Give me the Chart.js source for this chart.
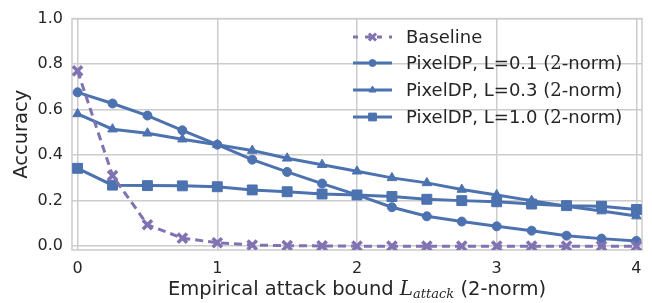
<!DOCTYPE html>
<html>
<head>
<meta charset="utf-8">
<script src="https://cdn.jsdelivr.net/npm/chart.js@4.4.1/dist/chart.umd.min.js"></script>
<style>
  html, body { margin: 0; padding: 0; background: #fff; }
  #wrap { width: 652px; height: 303px; }
</style>
</head>
<body>
<div id="wrap"><canvas id="chart" width="652" height="303"></canvas></div>
<script>
const attackBounds = [0, 0.25, 0.5, 0.75, 1, 1.25, 1.5, 1.75, 2, 2.25, 2.5, 2.75, 3, 3.25, 3.5, 3.75, 4];
const baseline = [0.77, 0.31, 0.094, 0.035, 0.015, 0.005, 0.002, 0.001, 0, 0, 0, 0, 0, 0, 0, 0, 0];
const pixelDP01 = [0.676, 0.627, 0.574, 0.509, 0.446, 0.38, 0.326, 0.275, 0.225, 0.171, 0.131, 0.108, 0.087, 0.068, 0.046, 0.033, 0.023];
const pixelDP03 = [0.581, 0.514, 0.496, 0.47, 0.446, 0.42, 0.386, 0.358, 0.329, 0.3, 0.278, 0.249, 0.225, 0.2, 0.175, 0.154, 0.132];
const pixelDP10 = [0.342, 0.268, 0.266, 0.265, 0.261, 0.247, 0.239, 0.229, 0.225, 0.218, 0.206, 0.2, 0.195, 0.185, 0.178, 0.175, 0.161];
const xTicks = [0, 1, 2, 3, 4];
const yTicks = [0, 0.2, 0.4, 0.6, 0.8, 1.0];

const blue = '#4c72b0';
const purple = '#8172b2';
const textColor = '#262626';
const gridColor = '#cccccc';

function pts(ys) {
  return attackBounds.map((x, i) => ({ x: x, y: ys[i] }));
}

// legend + x title + frame
const extras = {
  id: 'extras',
  beforeDatasetsDraw(chart) {
    const { ctx, chartArea: a } = chart;
    ctx.save();
    ctx.strokeStyle = gridColor;
    ctx.lineWidth = 1.5;
    ctx.strokeRect(a.left, a.top, a.right - a.left, a.bottom - a.top);
    ctx.restore();
  },
  afterDraw(chart) {
    const { ctx } = chart;
    ctx.save();
    ctx.fillStyle = textColor;
    ctx.textBaseline = 'middle';

    // legend
    const rowY = [37, 63, 90, 117];
    chart.data.datasets.forEach((ds, i) => {
      const y = rowY[i];
      ctx.strokeStyle = ds.borderColor;
      ctx.lineWidth = ds.borderWidth;
      ctx.setLineDash(ds.legendDash || []);
      ctx.beginPath();
      ctx.moveTo(353, y);
      ctx.lineTo(392, y);
      ctx.stroke();
      ctx.setLineDash([]);
      ctx.fillStyle = ds.pointBackgroundColor;
      ctx.strokeStyle = ds.borderColor;
      ctx.lineWidth = ds.legendPointBorder;
      Chart.helpers.drawPoint(ctx, {
        pointStyle: ds.pointStyle,
        radius: ds.legendRadius,
        borderWidth: ds.legendPointBorder,
        rotation: 0
      }, 372.5, y);

      ctx.fillStyle = textColor;
      ctx.textAlign = 'left';
      let x = 406;
      ds.legendParts.forEach(p => {
        ctx.font = p.font;
        ctx.fillText(p.text, x, y + 1);
        x += ctx.measureText(p.text).width;
      });
    });

    // x axis title with math L_attack
    const sans = '19.5px "DejaVu Sans"';
    const pieces = [
      { text: 'Empirical attack bound ', font: sans, dy: 0 },
      { text: 'L', font: 'italic 20px "DejaVu Serif"', dy: 0 },
      { text: 'attack', font: 'italic 13px "DejaVu Serif"', dy: 5 },
      { text: ' (2-norm)', font: sans, dy: 0 }
    ];
    let total = 0;
    pieces.forEach(p => { ctx.font = p.font; total += ctx.measureText(p.text).width; });
    const a = chart.chartArea;
    let x = (a.left + a.right) / 2 - total / 2;
    ctx.textAlign = 'left';
    pieces.forEach(p => {
      ctx.font = p.font;
      ctx.fillText(p.text, x, 290 + p.dy);
      x += ctx.measureText(p.text).width;
    });
    ctx.restore();
  }
};

const sansLegend = '18px "DejaVu Sans"';
const serifLegend = '18px "DejaVu Serif"';
function normParts(label) {
  return [
    { text: label + ' (', font: sansLegend },
    { text: '2', font: serifLegend },
    { text: '-norm)', font: sansLegend }
  ];
}

new Chart(document.getElementById('chart'), {
  type: 'line',
  data: {
    datasets: [
      {
        label: 'Baseline',
        data: pts(baseline),
        borderColor: purple,
        backgroundColor: purple,
        pointBackgroundColor: purple,
        borderWidth: 3,
        borderDash: [8, 5],
        pointStyle: 'crossRot',
        pointRadius: 6.5,
        pointBorderWidth: 3.5,
        legendDash: [5, 7],
        legendRadius: 5,
        legendPointBorder: 3,
        legendParts: [{ text: 'Baseline', font: sansLegend }]
      },
      {
        label: 'PixelDP, L=0.1 (2-norm)',
        data: pts(pixelDP01),
        borderColor: blue,
        backgroundColor: blue,
        pointBackgroundColor: blue,
        borderWidth: 3,
        pointStyle: 'circle',
        pointRadius: 4.5,
        pointBorderWidth: 1,
        legendRadius: 3.5,
        legendPointBorder: 1,
        legendParts: normParts('PixelDP, L=0.1')
      },
      {
        label: 'PixelDP, L=0.3 (2-norm)',
        data: pts(pixelDP03),
        borderColor: blue,
        backgroundColor: blue,
        pointBackgroundColor: blue,
        borderWidth: 3,
        pointStyle: 'triangle',
        pointRadius: 5.5,
        pointBorderWidth: 1,
        legendRadius: 4,
        legendPointBorder: 1,
        legendParts: normParts('PixelDP, L=0.3')
      },
      {
        label: 'PixelDP, L=1.0 (2-norm)',
        data: pts(pixelDP10),
        borderColor: blue,
        backgroundColor: blue,
        pointBackgroundColor: blue,
        borderWidth: 3,
        pointStyle: 'rect',
        pointRadius: 7,
        pointBorderWidth: 1,
        legendRadius: 5.5,
        legendPointBorder: 1,
        legendParts: normParts('PixelDP, L=1.0')
      }
    ]
  },
  options: {
    responsive: false,
    animation: false,
    layout: { padding: { top: 12, right: 8, left: 0, bottom: 0 } },
    plugins: {
      legend: { display: false },
      tooltip: { enabled: false }
    },
    scales: {
      x: {
        type: 'linear',
        min: -0.04,
        max: 4.04,
        afterBuildTicks: s => { s.ticks = xTicks.map(v => ({ value: v })); },
        afterFit: s => { s.height = 53; },
        grid: { color: gridColor, lineWidth: 1.5, drawTicks: false },
        border: { display: false },
        ticks: {
          color: textColor,
          font: { family: 'DejaVu Sans', size: 16 },
          padding: 9,
          maxRotation: 0,
          callback: v => String(v)
        }
      },
      y: {
        min: -0.017,
        max: 1.0,
        afterBuildTicks: s => { s.ticks = yTicks.map(v => ({ value: v })); },
        afterFit: s => { s.width = 72; },
        grid: { color: gridColor, lineWidth: 1.5, drawTicks: false },
        border: { display: false },
        title: {
          display: true,
          text: 'Accuracy',
          color: textColor,
          font: { family: 'DejaVu Sans', size: 19.5 },
          padding: { top: 10, bottom: 0 }
        },
        ticks: {
          color: textColor,
          font: { family: 'DejaVu Sans', size: 16 },
          padding: 9,
          callback: v => v.toFixed(1)
        }
      }
    }
  },
  plugins: [extras]
});
</script>
</body>
</html>
